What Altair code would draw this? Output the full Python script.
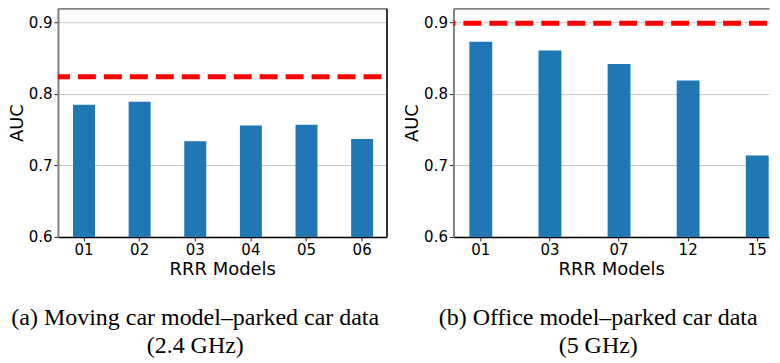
import altair as alt
import pandas as pd

# ---- data ----
models_a = ["01", "02", "03", "04", "05", "06"]
auc_a = [0.785, 0.789, 0.734, 0.756, 0.757, 0.737]
baseline_a = [0.824]
caption_a = ["(a) Moving car model\u2013parked car data", "(2.4 GHz)"]

models_b = ["01", "03", "07", "12", "15"]
auc_b = [0.873, 0.861, 0.842, 0.819, 0.714]
baseline_b = [0.899]
caption_b = ["(b) Office model\u2013parked car data", "(5 GHz)"]

y_ticks = [0.6, 0.7, 0.8, 0.9]

BAR = "#1f77b4"
SANS = "DejaVu Sans"
SERIF = "Liberation Serif"
H = 229


def panel(models, aucs, base_val, caption, width, xscale, right_frame, dx, dash_off):
    df = pd.DataFrame({"model": models, "auc": aucs})
    ref = pd.DataFrame({"ref": base_val})
    yscale = alt.Scale(domain=[0.6, 0.92], zero=False, nice=False)

    bars = alt.Chart(df).mark_bar(color=BAR, clip=True).encode(
        x=alt.X("model:N", sort=models, scale=xscale,
                axis=alt.Axis(orient="bottom", title="RRR Models", labelAngle=0,
                              labelFont=SANS, labelFontSize=15, labelColor="black",
                              labelPadding=2, tickSize=4, tickColor="#222",
                              domainColor="black", domainWidth=1.5,
                              titleFont=SANS, titleFontSize=18, titleFontWeight="normal",
                              titleColor="black", titlePadding=3, grid=False)),
        y=alt.Y("auc:Q", scale=yscale,
                axis=alt.Axis(orient="left", title="AUC", values=y_ticks, format=".1f",
                              labelFont=SANS, labelFontSize=15, labelColor="black",
                              labelPadding=2, tickSize=4, tickColor="#222",
                              domainColor="#808080", domainWidth=2,
                              titleFont=SANS, titleFontSize=18, titleFontWeight="normal",
                              titleColor="black", titlePadding=2,
                              grid=True, gridColor="#c6c6c6", gridWidth=1)),
    )

    rule = alt.Chart(ref).mark_rule(color="#ff0000", strokeWidth=5,
                                    strokeDash=[18, 8], strokeDashOffset=dash_off).encode(
        y=alt.Y("ref:Q", scale=yscale, axis=None)
    )

    yframe = alt.Axis(orient="right", title=None, labels=False, ticks=False, grid=False,
                      domainColor="#333333", domainWidth=2,
                      minExtent=0, maxExtent=0, offset=0) if right_frame else None
    frame = alt.Chart(df).mark_bar(opacity=0, clip=True).encode(
        x=alt.X("model:N", sort=models, scale=xscale,
                axis=alt.Axis(orient="top", title=None, labels=False, ticks=False,
                              grid=False, domainColor="#808080", domainWidth=2,
                              minExtent=0, maxExtent=0, offset=0)),
        y=alt.Y("auc:Q", scale=yscale, axis=yframe),
    )

    return alt.layer(bars, rule, frame).resolve_axis(
        x="independent", y="independent"
    ).properties(
        width=width, height=H,
        title=alt.TitleParams(text=caption, orient="bottom", anchor="middle",
                              frame="group", font=SERIF, fontSize=24,
                              fontWeight="normal", color="black", lineHeight=28,
                              offset=27, dx=dx),
    )


xs_a = alt.Scale(paddingInner=0.605, paddingOuter=0.256, align=0.53)
xs_b = alt.Scale(paddingInner=0.669, paddingOuter=0.118, align=0.98)

pa = panel(models_a, auc_a, baseline_a, caption_a, 329, xs_a, True, -27, -5)
pb = panel(models_b, auc_b, baseline_b, caption_b, 316, xs_b, False, -13, -2)

chart = alt.hconcat(pa, pb, spacing=67, bounds="flush").properties(
    padding=0
).configure_view(strokeWidth=0)

chart.save("out.html", embed_options={"renderer": "svg", "actions": False})
